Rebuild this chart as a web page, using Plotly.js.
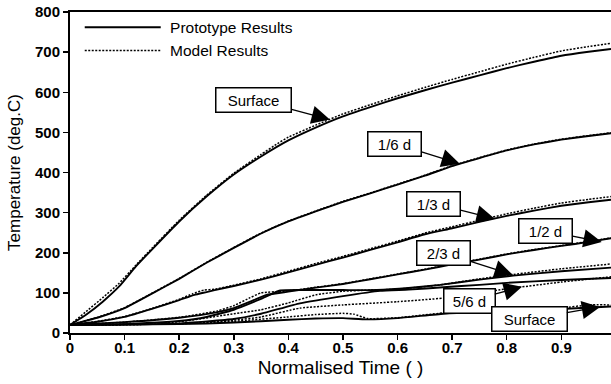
<!DOCTYPE html>
<html>
<head>
<meta charset="utf-8">
<script src="https://cdn.plot.ly/plotly-3.0.1.min.js"></script>
<style>html,body{margin:0;padding:0;background:#fff;}#chart{width:611px;height:384px;}</style>
</head>
<body>
<div id="chart"></div>
<script>
// ---- data ----
const surfTopProtoX = [0, 0.03, 0.06, 0.09, 0.12, 0.15, 0.2, 0.25, 0.3, 0.35, 0.4, 0.45, 0.5, 0.55, 0.6, 0.65, 0.7, 0.75, 0.8, 0.85, 0.9, 0.95, 0.991];
const surfTopProtoY = [20, 46, 78, 116, 165, 208, 278, 340, 395, 440, 480, 512, 540, 563, 585, 605, 624, 642, 660, 676, 691, 701, 708];
const surfTopModelX = [0, 0.03, 0.06, 0.09, 0.12, 0.15, 0.2, 0.25, 0.3, 0.35, 0.38, 0.4, 0.45, 0.5, 0.55, 0.6, 0.65, 0.7, 0.75, 0.8, 0.85, 0.9, 0.95, 0.991];
const surfTopModelY = [20, 54, 88, 124, 168, 211, 281, 343, 398, 445, 472, 488, 518, 546, 569, 591, 612, 632, 651, 670, 687, 703, 714, 722];

const d16ProtoX = [0, 0.05, 0.1, 0.15, 0.2, 0.25, 0.3, 0.35, 0.4, 0.45, 0.5, 0.55, 0.6, 0.65, 0.7, 0.75, 0.8, 0.85, 0.9, 0.95, 0.991];
const d16ProtoY = [20, 38, 62, 98, 135, 175, 212, 248, 278, 303, 327, 348, 370, 392, 416, 436, 455, 470, 482, 491, 498];
const d16ModelX = [0, 0.05, 0.1, 0.15, 0.2, 0.25, 0.3, 0.35, 0.4, 0.45, 0.5, 0.55, 0.6, 0.65, 0.7, 0.75, 0.8, 0.85, 0.9, 0.95, 0.991];
const d16ModelY = [20, 39, 63, 99, 136, 176, 213, 249, 279, 304, 328, 349, 371, 393, 417, 437, 456, 471, 483, 492, 499];

const d13ProtoX = [0, 0.05, 0.1, 0.15, 0.2, 0.228, 0.25, 0.265, 0.3, 0.35, 0.4, 0.45, 0.5, 0.55, 0.6, 0.65, 0.7, 0.75, 0.8, 0.85, 0.9, 0.95, 0.991];
const d13ProtoY = [20, 28, 40, 60, 82, 95, 102, 107, 117, 133, 151, 170, 188, 207, 226, 246, 261, 277, 292, 305, 317, 326, 332];
const d13ModelX = [0, 0.05, 0.1, 0.15, 0.2, 0.225, 0.245, 0.265, 0.3, 0.35, 0.4, 0.45, 0.5, 0.55, 0.6, 0.65, 0.7, 0.75, 0.8, 0.85, 0.9, 0.95, 0.991];
const d13ModelY = [20, 29, 41, 61, 84, 98, 107, 109, 119, 135, 154, 173, 191, 210, 229, 249, 265, 281, 297, 311, 324, 333, 340];

const d12ProtoX = [0, 0.1, 0.2, 0.27, 0.3, 0.33, 0.36, 0.4, 0.45, 0.5, 0.55, 0.6, 0.65, 0.7, 0.75, 0.8, 0.85, 0.9, 0.95, 0.991];
const d12ProtoY = [20, 27, 38, 52, 62, 78, 95, 103, 113, 122, 134, 146, 158, 171, 183, 196, 207, 217, 227, 236];
const d12ModelX = [0, 0.1, 0.2, 0.27, 0.3, 0.33, 0.35, 0.4, 0.45, 0.5, 0.55, 0.6, 0.65, 0.7, 0.75, 0.8, 0.85, 0.9, 0.95, 0.991];
const d12ModelY = [20, 27, 39, 55, 68, 88, 100, 105, 114, 123, 135, 147, 159, 172, 184, 197, 208, 218, 228, 237];

const d23ProtoX = [0, 0.1, 0.2, 0.25, 0.3, 0.35, 0.385, 0.45, 0.5, 0.562, 0.62, 0.678, 0.75, 0.812, 0.9, 0.991];
const d23ProtoY = [20, 22, 30, 40, 58, 85, 106, 107, 107, 107, 112, 120, 133, 143, 154, 163];
const d23ModelX = [0, 0.1, 0.2, 0.3, 0.35, 0.4, 0.45, 0.5, 0.55, 0.6, 0.678, 0.75, 0.812, 0.9, 0.991];
const d23ModelY = [20, 21, 28, 48, 58, 75, 95, 104, 107, 109, 120, 135, 146, 160, 172];

const d56ProtoX = [0, 0.1, 0.2, 0.3, 0.35, 0.421, 0.5, 0.568, 0.62, 0.684, 0.75, 0.8, 0.9, 0.991];
const d56ProtoY = [20, 21, 24, 35, 48, 74, 92, 105, 108, 114, 120, 125, 132, 137];
const d56ModelX = [0, 0.1, 0.2, 0.3, 0.35, 0.421, 0.5, 0.6, 0.684, 0.75, 0.8, 0.9, 0.991];
const d56ModelY = [20, 21, 23, 32, 40, 62, 70, 78, 87, 100, 110, 127, 140];

const surfBotProtoX = [0, 0.1, 0.2, 0.3, 0.4, 0.45, 0.5, 0.543, 0.6, 0.684, 0.75, 0.8, 0.9, 0.991];
const surfBotProtoY = [20, 21, 22, 26, 33, 36, 37, 34, 37, 48, 52, 55, 60, 66];
const surfBotModelX = [0, 0.1, 0.2, 0.3, 0.4, 0.45, 0.5, 0.52, 0.545, 0.6, 0.684, 0.75, 0.8, 0.9, 0.95, 0.991];
const surfBotModelY = [20, 21, 23, 29, 40, 46, 49, 47, 36, 38, 50, 54, 57, 62, 70, 70];

const xTickVals = [0, 0.1, 0.2, 0.3, 0.4, 0.5, 0.6, 0.7, 0.8, 0.9];
const xTickText = ['0', '0.1', '0.2', '0.3', '0.4', '0.5', '0.6', '0.7', '0.8', '0.9'];
const yTickVals = [0, 100, 200, 300, 400, 500, 600, 700, 800];

const labelText = ['Surface', '1/6 d', '1/3 d', '1/2 d', '2/3 d', '5/6 d', 'Surface'];
const labelTipX = [0.476, 0.714, 0.778, 0.974, 0.811, 0.828, 0.971];
const labelTipY = [532, 422, 285, 227, 145, 115, 65];

// ---- traces ----
const pairs = [
  [surfTopProtoX, surfTopProtoY, surfTopModelX, surfTopModelY],
  [d16ProtoX, d16ProtoY, d16ModelX, d16ModelY],
  [d13ProtoX, d13ProtoY, d13ModelX, d13ModelY],
  [d12ProtoX, d12ProtoY, d12ModelX, d12ModelY],
  [d23ProtoX, d23ProtoY, d23ModelX, d23ModelY],
  [d56ProtoX, d56ProtoY, d56ModelX, d56ModelY],
  [surfBotProtoX, surfBotProtoY, surfBotModelX, surfBotModelY]
];
const traces = [];
pairs.forEach((p, i) => {
  traces.push({x: p[0], y: p[1], type: 'scatter', mode: 'lines', name: '\u00a0Prototype Results',
    showlegend: i === 0, legendrank: 1,
    line: {color: '#000', width: 1.9, shape: 'spline', smoothing: 0.4}, hoverinfo: 'skip'});
  traces.push({x: p[2], y: p[3], type: 'scatter', mode: 'lines', name: '\u00a0Model Results',
    showlegend: i === 0, legendrank: 2,
    line: {color: '#000', width: 1.5, dash: '2px,1.5px', shape: 'spline', smoothing: 0.4}, hoverinfo: 'skip'});
});

// annotation box offsets (pixels from tip to box centre)
const labelAx = [-76, -65, -61, -56, -69, -53, -71];
const labelAy = [-20, -20, -15, -11, -22, 14, 12];
const labelW = [70, 48, 48, 48, 48, 46, 70];

const annotations = labelText.map((t, i) => ({
  x: labelTipX[i], y: labelTipY[i], xref: 'x', yref: 'y',
  text: t, showarrow: true, ax: labelAx[i], ay: labelAy[i],
  arrowhead: 2, arrowsize: 2.8, arrowwidth: 1.3, arrowcolor: '#000',
  bgcolor: '#fff', bordercolor: '#000', borderwidth: 1.5, borderpad: 2,
  width: labelW[i], height: 19,
  font: {family: 'Liberation Sans, Arial, sans-serif', size: 15, color: '#000'}
}));

const layout = {
  width: 611, height: 384,
  margin: {l: 70, r: 0, t: 12, b: 51},
  paper_bgcolor: '#fff', plot_bgcolor: '#fff',
  font: {family: 'Liberation Sans, Arial, sans-serif', color: '#000'},
  showlegend: true,
  legend: {x: 0.018, y: 1.004, xanchor: 'left', yanchor: 'top', bgcolor: 'rgba(0,0,0,0)',
    borderwidth: 0, itemwidth: 76, tracegroupgap: 0,
    font: {family: 'Liberation Sans, Arial, sans-serif', size: 15.5, color: '#000'}},
  xaxis: {
    range: [0, 0.991], tickvals: xTickVals, ticktext: xTickText,
    showgrid: false, zeroline: false, showline: true, linecolor: '#000', linewidth: 2, mirror: true,
    ticks: 'outside', ticklen: 5, tickwidth: 1.5, tickcolor: '#000', ticklabelstandoff: -5,
    tickfont: {family: 'Liberation Sans, Arial, sans-serif', size: 15, color: '#000', weight: 'bold'},
    title: {text: 'Normalised Time ( )', font: {size: 19, color: '#000'}, standoff: 6}
  },
  yaxis: {
    range: [0, 800], tickvals: yTickVals,
    showgrid: false, zeroline: false, showline: true, linecolor: '#000', linewidth: 2,
    ticks: 'outside', ticklen: 5, tickwidth: 1.5, tickcolor: '#000',
    tickfont: {family: 'Liberation Sans, Arial, sans-serif', size: 15, color: '#000', weight: 'bold'},
    title: {text: 'Temperature (deg.C)', font: {size: 17, color: '#000'}, standoff: 10}
  },
  annotations: annotations
};

Plotly.newPlot('chart', traces, layout, {displayModeBar: false, staticPlot: true});
</script>
</body>
</html>
